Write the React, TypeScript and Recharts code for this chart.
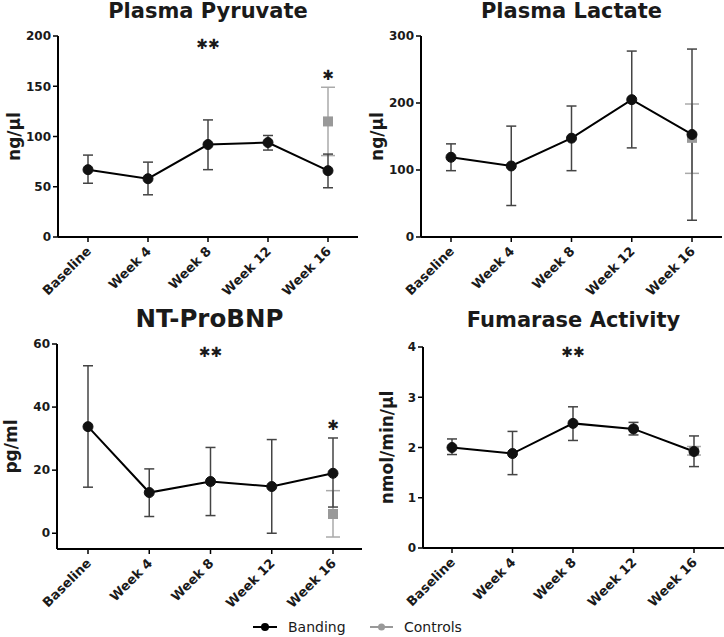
import React from 'react';
import { ComposedChart, Line, XAxis, YAxis, ErrorBar, ReferenceDot } from 'recharts';

const categories = ['Baseline', 'Week 4', 'Week 8', 'Week 12', 'Week 16'];

// Plasma Pyruvate (ng/µl)
const pyruvateMean = [67, 58, 92, 94, 66];
const pyruvateLow = [53.5, 42, 67, 86.5, 49];
const pyruvateHigh = [81.5, 74.5, 116.5, 101, 82.5];
const pyruvateCtrl = [null, null, null, null, 115];
const pyruvateCtrlLow = [null, null, null, null, 81];
const pyruvateCtrlHigh = [null, null, null, null, 149];

// Plasma Lactate (ng/µl)
const lactateMean = [119, 106, 147.5, 205, 153];
const lactateLow = [99, 47, 99, 133, 25];
const lactateHigh = [139, 165.5, 195.5, 277.5, 280.5];
const lactateCtrl = [null, null, null, null, 148];
const lactateCtrlLow = [null, null, null, null, 95];
const lactateCtrlHigh = [null, null, null, null, 198.5];

// NT-ProBNP (pg/ml)
const bnpMean = [33.8, 12.9, 16.4, 14.8, 19];
const bnpLow = [14.6, 5.3, 5.6, 0, 8.3];
const bnpHigh = [53.1, 20.4, 27.2, 29.7, 30.2];
const bnpCtrl = [null, null, null, null, 6.1];
const bnpCtrlLow = [null, null, null, null, -1.2];
const bnpCtrlHigh = [null, null, null, null, 13.5];

// Fumarase Activity (nmol/min/µl)
const fumMean = [2.0, 1.88, 2.48, 2.37, 1.92];
const fumLow = [1.86, 1.46, 2.14, 2.25, 1.62];
const fumHigh = [2.17, 2.32, 2.81, 2.5, 2.23];
const fumCtrl = [null, null, null, null, 1.93];
const fumCtrlLow = [null, null, null, null, 1.85];
const fumCtrlHigh = [null, null, null, null, 2.02];

const FONT = '"DejaVu Sans", sans-serif';
const TEXT = '#1a1a1a';
const GREY = '#999999';

const buildRows = (
  mean: number[], low: number[], high: number[],
  ctrl: (number | null)[], cLow: (number | null)[], cHigh: (number | null)[]
) =>
  categories.map((name, i) => ({
    name,
    banding: mean[i],
    bandErr: [mean[i] - low[i], high[i] - mean[i]],
    controls: ctrl[i],
    ctrlErr: ctrl[i] == null ? undefined : [(ctrl[i] as number) - (cLow[i] as number), (cHigh[i] as number) - (ctrl[i] as number)],
  }));

const RotTick = (props: any) => {
  const { x, y, payload } = props;
  const ax = x + 4;
  const ay = y + 8;
  return (
    <text x={ax} y={ay} transform={`rotate(-45 ${ax} ${ay})`} textAnchor="end"
      fontFamily={FONT} fontSize={13} fontWeight="bold" fill={TEXT}>
      {payload.value}
    </text>
  );
};

const SquareDot = (props: any) => {
  const { cx, cy, index } = props;
  if (cx == null || cy == null) return <g key={`sq-${index}`} />;
  return <rect key={`sq-${index}`} x={cx - 5} y={cy - 5} width={10} height={10} fill={GREY} />;
};

const starShape = (text: string) => (p: any) => (
  <text x={p.cx} y={p.cy} textAnchor="middle" dominantBaseline="central" fontFamily={FONT}
    fontSize={14} fontWeight="bold" fill={TEXT}>{text}</text>
);

interface Star { x: string; y: number; text: string }

interface PanelProps {
  title: string;
  titleSize: number;
  titleBaseline: number;
  left: number;
  top: number;
  height: number;
  marginTop: number;
  xAxisHeight: number;
  yAxisWidth: number;
  rightMargin: number;
  padL: number;
  padR: number;
  domain: [number, number];
  ticks: number[];
  yLabel: string;
  yLabelX: number;
  rows: any[];
  stars: Star[];
}

const Panel = (p: PanelProps) => {
  const plotW = 362 - p.yAxisWidth - p.rightMargin;
  return (
    <>
      <div style={{
        position: 'absolute', left: p.left + p.yAxisWidth, width: plotW,
        top: p.titleBaseline - 0.846 * p.titleSize, textAlign: 'center',
        fontFamily: FONT, fontWeight: 'bold', fontSize: p.titleSize, lineHeight: `${p.titleSize}px`,
        color: TEXT, whiteSpace: 'nowrap',
      }}>{p.title}</div>
      <div style={{ position: 'absolute', left: p.left, top: p.top }}>
        <ComposedChart width={362} height={p.height} data={p.rows}
          margin={{ top: p.marginTop, right: p.rightMargin, bottom: 0, left: 0 }}>
          <XAxis dataKey="name" type="category" height={p.xAxisHeight} interval={0}
            padding={{ left: p.padL, right: p.padR }} tickSize={5}
            axisLine={{ stroke: '#000', strokeWidth: 2 }}
            tickLine={{ stroke: '#000', strokeWidth: 1.5 }} tick={<RotTick />} />
          <YAxis width={p.yAxisWidth} domain={p.domain} ticks={p.ticks} allowDataOverflow
            tickSize={5} axisLine={{ stroke: '#000', strokeWidth: 2 }}
            tickLine={{ stroke: '#000', strokeWidth: 1.5 }}
            tick={{ fill: TEXT, fontSize: 12, fontWeight: 'bold', fontFamily: FONT }}
            label={{
              content: (lp: any) => {
                const vb = lp.viewBox;
                const lx = p.yLabelX;
                const ly = vb.y + vb.height / 2;
                return (
                  <text x={lx} y={ly} transform={`rotate(-90 ${lx} ${ly})`} textAnchor="middle"
                    fontFamily={FONT} fontSize={17} fontWeight="bold" fill={TEXT}>{p.yLabel}</text>
                );
              },
            }} />
          <Line dataKey="controls" stroke={GREY} strokeWidth={2} dot={<SquareDot />}
            activeDot={false} isAnimationActive={false} connectNulls={false}>
            <ErrorBar dataKey="ctrlErr" width={7} stroke="#aaaaaa" strokeWidth={1.5} direction="y" />
          </Line>
          <Line dataKey="banding" stroke="#000" strokeWidth={2}
            dot={{ r: 5, fill: '#111', stroke: '#111', strokeWidth: 1 }}
            activeDot={false} isAnimationActive={false}>
            <ErrorBar dataKey="bandErr" width={5} stroke="#444" strokeWidth={1.5} direction="y" />
          </Line>
          {p.stars.map((s, i) => (
            <ReferenceDot key={i} x={s.x} y={s.y} r={0} shape={starShape(s.text)} />
          ))}
        </ComposedChart>
      </div>
    </>
  );
};

const Legend = () => (
  <svg width={300} height={24} style={{ position: 'absolute', left: 240, top: 615 }}>
    <line x1={13} x2={37} y1={12} y2={12} stroke="#000" strokeWidth={2} />
    <circle cx={25} cy={12} r={4} fill="#000" />
    <text x={48} y={17} fontFamily={FONT} fontSize={14} fill={TEXT}>Banding</text>
    <line x1={130} x2={153} y1={12} y2={12} stroke={GREY} strokeWidth={2} />
    <circle cx={141.5} cy={12} r={3.5} fill={GREY} />
    <text x={164} y={17} fontFamily={FONT} fontSize={14} fill={TEXT}>Controls</text>
  </svg>
);

export default function App() {
  return (
    <div style={{ position: 'absolute', left: 0, top: 0, width: 724, height: 637, background: '#fff', overflow: 'hidden' }}>
      <Panel title="Plasma Pyruvate" titleSize={21} titleBaseline={18.5}
        left={0} top={0} height={300} marginTop={36} xAxisHeight={63}
        yAxisWidth={58} rightMargin={4} padL={30} padR={30}
        domain={[0, 200]} ticks={[0, 50, 100, 150, 200]} yLabel="ng/µl" yLabelX={20}
        rows={buildRows(pyruvateMean, pyruvateLow, pyruvateHigh, pyruvateCtrl, pyruvateCtrlLow, pyruvateCtrlHigh)}
        stars={[{ x: 'Week 8', y: 192, text: '✱✱' }, { x: 'Week 16', y: 161, text: '✱' }]} />
      <Panel title="Plasma Lactate" titleSize={21} titleBaseline={18.5}
        left={362} top={0} height={300} marginTop={36} xAxisHeight={63}
        yAxisWidth={59} rightMargin={2} padL={30} padR={30}
        domain={[0, 300]} ticks={[0, 100, 200, 300]} yLabel="ng/µl" yLabelX={21}
        rows={buildRows(lactateMean, lactateLow, lactateHigh, lactateCtrl, lactateCtrlLow, lactateCtrlHigh)}
        stars={[]} />
      <Panel title="NT-ProBNP" titleSize={24.5} titleBaseline={328}
        left={0} top={300} height={320} marginTop={44} xAxisHeight={71}
        yAxisWidth={57} rightMargin={0} padL={31} padR={29}
        domain={[-5, 60]} ticks={[0, 20, 40, 60]} yLabel="pg/ml" yLabelX={16.5}
        rows={buildRows(bnpMean, bnpLow, bnpHigh, bnpCtrl, bnpCtrlLow, bnpCtrlHigh)}
        stars={[{ x: 'Week 8', y: 57.5, text: '✱✱' }, { x: 'Week 16', y: 34.3, text: '✱' }]} />
      <Panel title="Fumarase Activity" titleSize={21} titleBaseline={328}
        left={362} top={300} height={320} marginTop={47} xAxisHeight={72}
        yAxisWidth={61} rightMargin={0} padL={29} padR={30}
        domain={[0, 4]} ticks={[0, 1, 2, 3, 4]} yLabel="nmol/min/µl" yLabelX={31}
        rows={buildRows(fumMean, fumLow, fumHigh, fumCtrl, fumCtrlLow, fumCtrlHigh)}
        stars={[{ x: 'Week 8', y: 3.9, text: '✱✱' }]} />
      <Legend />
    </div>
  );
}
